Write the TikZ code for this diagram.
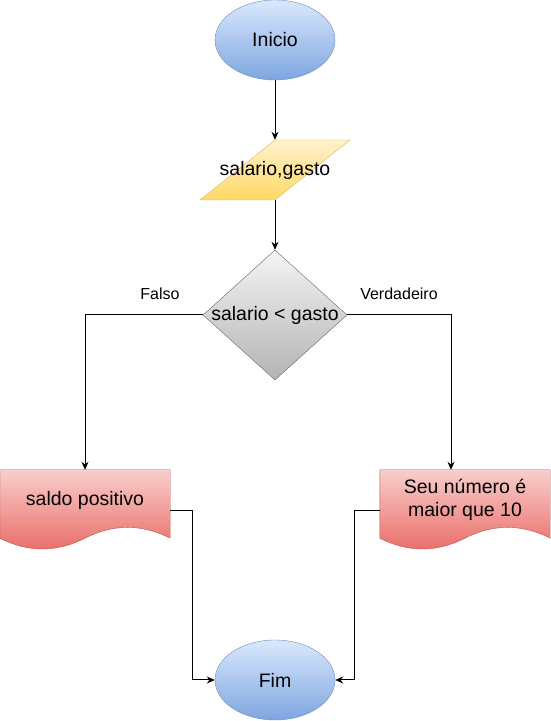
\documentclass[tikz,border=0pt]{standalone}
\usepackage{fontspec}
\setmainfont{Liberation Sans}
\usetikzlibrary{shapes.geometric,arrows.meta,backgrounds}

\definecolor{blueTop}{HTML}{DAE8FC}
\definecolor{blueBot}{HTML}{7EA6E0}
\definecolor{blueLine}{HTML}{6C8EBF}
\definecolor{yellowTop}{HTML}{FFF2CC}
\definecolor{yellowBot}{HTML}{FFD966}
\definecolor{yellowLine}{HTML}{D6B656}
\definecolor{grayTop}{HTML}{F5F5F5}
\definecolor{grayBot}{HTML}{B3B3B3}
\definecolor{grayLine}{HTML}{666666}
\definecolor{redTop}{HTML}{F8CECC}
\definecolor{redBot}{HTML}{EA6B66}
\definecolor{redLine}{HTML}{B85450}

% outline of a document box (wavy bottom)
\newcommand\docpath[1]{(#1.north west) -- (#1.north east) -- ([yshift=-8pt]#1.south east)
  .. controls ([xshift=-28.3pt,yshift=6.4pt]#1.south east) and ([xshift=28.3pt,yshift=6.4pt]#1.south) .. ([yshift=-8pt]#1.south)
  .. controls ([xshift=-28.3pt,yshift=-22.4pt]#1.south) and ([xshift=28.3pt,yshift=-22.4pt]#1.south west) .. ([yshift=-8pt]#1.south west) -- cycle}

\tikzset{
  txt/.style={font=\fontsize{19.5}{23}\selectfont, text=black, inner sep=0pt, align=center},
  term/.style={txt, ellipse, draw=blueLine, top color=blueTop, bottom color=blueBot, minimum width=120pt, minimum height=80pt},
  io/.style={txt, trapezium, trapezium left angle=71.57, trapezium right angle=108.43, trapezium stretches=true,
    draw=yellowLine, top color=yellowTop, bottom color=yellowBot, minimum width=150pt, minimum height=60pt},
  decision/.style={txt, diamond, draw=grayLine, top color=grayTop, bottom color=grayBot, minimum width=144pt, minimum height=130pt},
  docbox/.style={txt, rectangle, minimum width=170pt, minimum height=60pt},
  flow/.style={line width=1pt, -{Stealth[length=8pt,width=7pt]}},
  branch/.style={font=\fontsize{16}{19}\selectfont}
}

\begin{document}
\begin{tikzpicture}[x=1pt, y=1pt]
\useasboundingbox (0,0) rectangle (551,721);

% Start and input
\node [term] (ini) at ( 275, 681 ) {Inicio};
\node [io] (dados) at ( 275, 551 ) {\makebox[0pt]{salario,gasto}};

% Decision
\node [decision] (cond) at ( 275, 406 ) {\makebox[0pt]{salario < gasto}};
\node [branch] (falso) at ( 160, 427 ) {Falso};
\node [branch] (verdad) at ( 399, 427 ) {Verdadeiro};

% Outputs
\node [docbox] (saldo) at ( 85, 221 ) {saldo positivo};
\node [docbox] (maior) at ( 465, 221 ) {Seu número é\\maior que 10};

% End
\node [term] (fim) at ( 275, 41 ) {Fim};

% Document shapes behind the text
\begin{scope}[on background layer]
\draw [draw=redLine, top color=redTop, bottom color=redBot] \docpath{saldo};
\draw [draw=redLine, top color=redTop, bottom color=redBot] \docpath{maior};
\end{scope}

% Connectors
\draw [flow] (ini) -- (dados);
\draw [flow] (dados) -- (cond);
\draw [flow] (cond.west) -| (saldo.north);
\draw [flow] (cond.east) -| ([xshift=-14pt]maior.north);
\draw [flow] ([yshift=-11pt]saldo.east) -- ++(22,0) |- (fim.west);
\draw [flow] ([yshift=-11pt]maior.west) -- ++(-25,0) |- (fim.east);

\end{tikzpicture}
\end{document}
